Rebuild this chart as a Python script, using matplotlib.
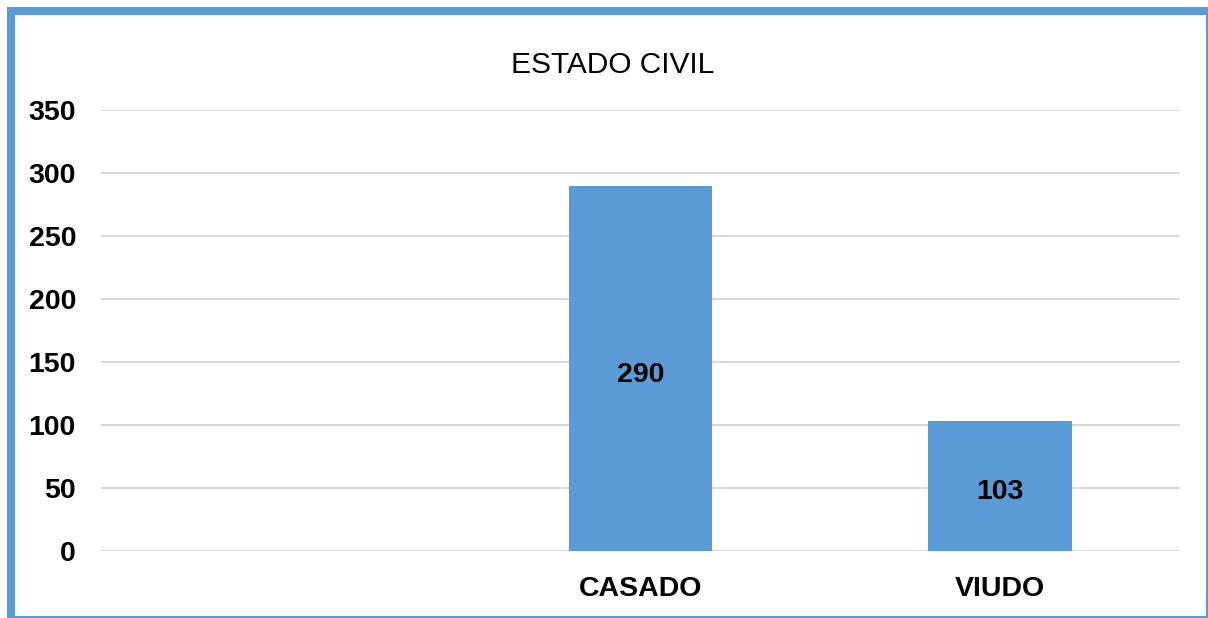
import matplotlib
matplotlib.use("Agg")
import matplotlib.pyplot as plt
import numpy as np
from matplotlib.lines import Line2D

categories = ["", "CASADO", "VIUDO"]
values = [np.nan, 290, 103]
y_ticks = [0, 50, 100, 150, 200, 250, 300, 350]
title = "ESTADO CIVIL"

BLUE = "#5B9BD5"
GRID = "#D9D9D9"

plt.rcParams["font.family"] = ["Liberation Sans", "DejaVu Sans"]

W, H = 1208, 618
fig = plt.figure(figsize=(W / 100, H / 100), dpi=100)
ax = fig.add_axes([101 / W, 1 - 551 / H, (1180 - 101) / W, (551 - 110) / H])

x = np.arange(len(categories))
bars = ax.bar(x, values, width=0.4, color=BLUE, zorder=3)

for xi, v in zip(x, values):
    if np.isnan(v):
        continue
    ax.annotate(f"{v:g}", (xi, v / 2), xytext=(0, -4.5), textcoords="offset points",
                ha="center", va="center", fontsize=20.5, fontweight="bold",
                color="black", zorder=4)

ax.set_xlim(-0.5, len(categories) - 0.5)
ax.set_ylim(0, 350)
ax.set_yticks(y_ticks)
ax.set_yticklabels([str(t) for t in y_ticks], fontsize=20.5, fontweight="bold")
ax.set_xticks(x)
ax.set_xticklabels(categories, fontsize=20.5, fontweight="bold")
ax.tick_params(axis="y", length=0, pad=18)
ax.tick_params(axis="x", length=0, pad=18)
ax.grid(axis="y", color=GRID, linewidth=1.5, zorder=0)
for s in ax.spines.values():
    s.set_visible(False)

fig.text(613 / W, 1 - 65 / H, title, ha="center", va="center", fontsize=21.5)

# chart frame
def fx(px):
    return px / W

def fy(py):
    return 1 - py / H

frame = dict(color=BLUE, solid_capstyle="butt")
fig.add_artist(Line2D([fx(10.5), fx(10.5)], [fy(7), fy(618)], linewidth=5.8, **frame))
fig.add_artist(Line2D([fx(7), fx(1208)], [fy(11), fy(11)], linewidth=5.8, **frame))
fig.add_artist(Line2D([fx(1206.5), fx(1206.5)], [fy(7), fy(618)], linewidth=2.2, **frame))
fig.add_artist(Line2D([fx(7), fx(1208)], [fy(616.5), fy(616.5)], linewidth=2.2, **frame))

fig.savefig("out.png", dpi=100)
